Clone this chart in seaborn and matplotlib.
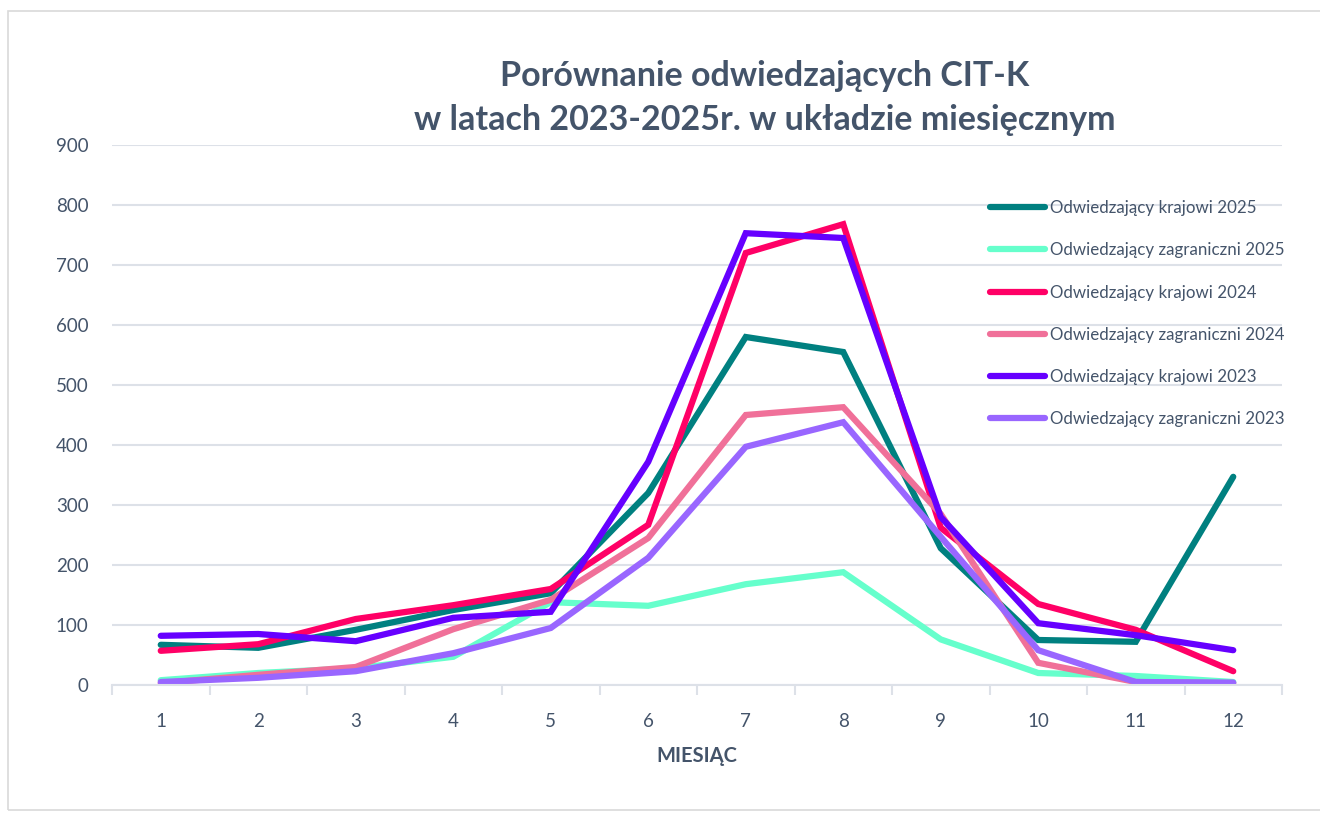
import matplotlib
matplotlib.use("Agg")
import matplotlib.pyplot as plt
import seaborn as sns
import pandas as pd
from matplotlib.patches import Rectangle

months = list(range(1, 13))
krajowi_2025 = [67, 62, 92, 125, 153, 320, 580, 555, 228, 75, 72, 347]
zagraniczni_2025 = [8, 20, 28, 47, 138, 132, 168, 188, 76, 20, 15, 5]
krajowi_2024 = [57, 68, 110, 133, 160, 267, 720, 768, 262, 135, 92, 23]
zagraniczni_2024 = [3, 17, 30, 93, 142, 245, 450, 463, 285, 37, 5, 3]
krajowi_2023 = [82, 85, 73, 112, 122, 372, 753, 745, 280, 103, 83, 58]
zagraniczni_2023 = [5, 12, 23, 53, 95, 212, 397, 438, 247, 58, 5, 4]

series_names = [
    "Odwiedzający krajowi 2025",
    "Odwiedzający zagraniczni 2025",
    "Odwiedzający krajowi 2024",
    "Odwiedzający zagraniczni 2024",
    "Odwiedzający krajowi 2023",
    "Odwiedzający zagraniczni 2023",
]
series_values = [krajowi_2025, zagraniczni_2025, krajowi_2024,
                 zagraniczni_2024, krajowi_2023, zagraniczni_2023]
colors = ["#008080", "#66FFCC", "#FF0066", "#F07099", "#6600FF", "#9966FF"]

title = "Porównanie odwiedzających CIT-K\nw latach 2023-2025r. w układzie miesięcznym"
xlabel = "MIESIĄC"
yticks = list(range(0, 901, 100))

rows = []
for name, vals in zip(series_names, series_values):
    for m, v in zip(months, vals):
        rows.append({"Miesiąc": m, "Wartość": v, "Seria": name})
df = pd.DataFrame(rows)

sns.set_theme(style="white")
plt.rcParams['font.family'] = ['Lato', 'DejaVu Sans']
txt = "#44546A"
grid = "#DDE1E8"

fig = plt.figure(figsize=(13.2, 8.13), dpi=100)
fig.patches.append(Rectangle((8/1320, 1-810/813), 1.0, (810-11)/813,
                             transform=fig.transFigure, fill=False,
                             edgecolor="#D9D9D9", linewidth=1.2))
ax = fig.add_axes([112/1320, 1-685/813, (1282-112)/1320, (685-145)/813])

sns.lineplot(data=df, x="Miesiąc", y="Wartość", hue="Seria",
             hue_order=series_names, palette=colors, linewidth=4.5,
             ax=ax, legend=True, solid_capstyle="round", solid_joinstyle="miter")

ax.set_xlim(0.5, 12.5)
ax.set_ylim(0, 900)
ax.set_yticks(yticks)
ax.set_xticks(months)
ax.set_xticks([m + 0.5 for m in [0] + months], minor=True)
ax.yaxis.grid(True, color=grid, linewidth=1.5)
ax.set_axisbelow(True)
for s in ["top", "right", "left"]:
    ax.spines[s].set_visible(False)
ax.spines["bottom"].set_color(grid)
ax.spines["bottom"].set_linewidth(1.5)
ax.tick_params(axis="x", which="major", length=0, pad=20, labelsize=13.5, labelcolor=txt)
ax.tick_params(axis="x", which="minor", length=7, width=1.5, color=grid, bottom=True)
ax.tick_params(axis="y", length=0, pad=17, labelsize=13.5, labelcolor=txt)
ax.set_xlabel(xlabel, fontsize=14.5, fontweight="bold", color=txt, labelpad=12)
ax.set_ylabel("")

fig.text(765/1320, 1-98/813, title, ha="center", va="center",
         fontsize=24.5, fontweight="bold", color=txt, linespacing=1.45)

handles, labels = ax.get_legend_handles_labels()
ax.legend(handles, labels, loc="upper left", bbox_to_anchor=(990/1320, 1-200/813),
          bbox_transform=fig.transFigure, frameon=False, fontsize=12.2,
          handlelength=3.25, handletextpad=0.3, labelspacing=1.55,
          labelcolor=txt, borderaxespad=0, borderpad=0)

fig.savefig("out.png", dpi=100, facecolor="white")
